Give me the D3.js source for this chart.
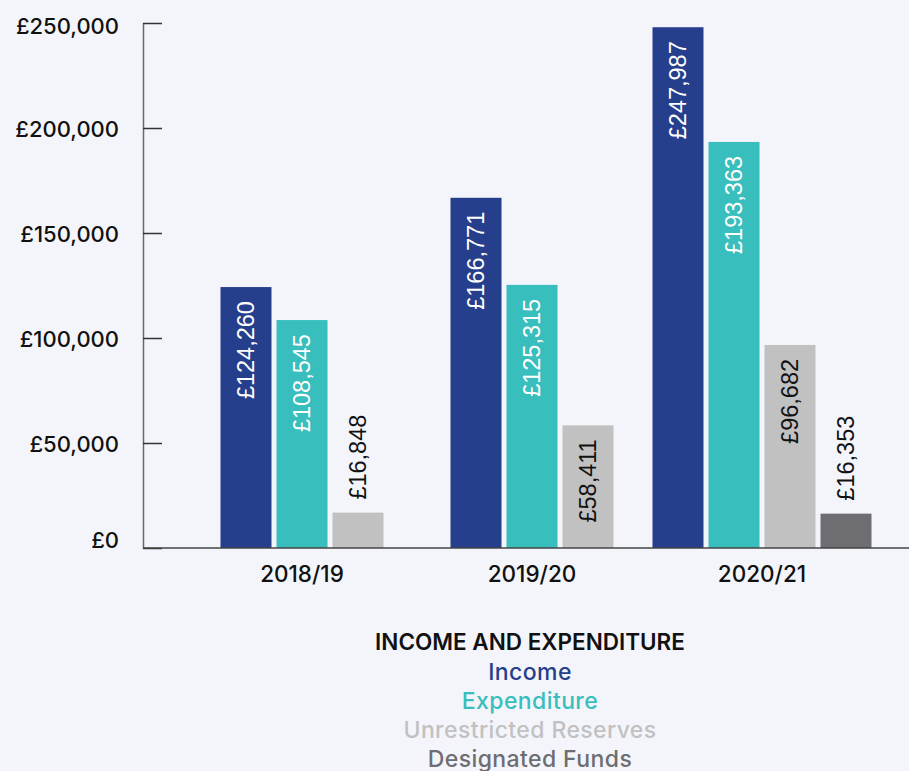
<!DOCTYPE html>
<html>
<head>
<meta charset="utf-8">
<script src="https://cdn.jsdelivr.net/npm/d3@7"></script>
<style>
  html, body { margin: 0; padding: 0; background: #f4f5fa; }
  svg { display: block; }
  .axis text { font-family: Inter, "Noto Sans", sans-serif; font-weight: 500; fill: #111; }
</style>
</head>
<body>
<svg id="chart" viewBox="0 0 909 771" width="909" height="771"></svg>
<script>
// data
const years = ["2018/19", "2019/20", "2020/21"];
const series = ["Income", "Expenditure", "Unrestricted Reserves", "Designated Funds"];
const income = [124260, 166771, 247987];
const expenditure = [108545, 125315, 193363];
const unrestricted = [16848, 58411, 96682];
const designated = [null, null, 16353];
const yTicks = [0, 50000, 100000, 150000, 200000, 250000];

const colors = ["#263f8c", "#38bebd", "#c1c1c2", "#6d6d72"];
const labelColors = ["#fff", "#fff", "#111", "#111"];

const svg = d3.select("#chart");
const width = 909;
const axisX = 143;

const y = d3.scaleLinear().domain([0, 250000]).range([548, 23]);
const x0 = d3.scaleBand().domain(years).range([187, 877]);
const barW = 51, barStep = 56;
const fmt = d => "£" + d3.format(",")(d);

const values = [income, expenditure, unrestricted, designated];

// flatten into bars, only present values, centred in their year
const bars = [];
years.forEach((yr, i) => {
  const present = series.map((s, k) => ({ s, k, v: values[k][i] })).filter(d => d.v != null);
  const groupW = present.length * barStep - (barStep - barW);
  const start = x0(yr) + x0.bandwidth() / 2 - groupW / 2;
  present.forEach((d, j) => bars.push({ year: yr, k: d.k, v: d.v, x: start + j * barStep }));
});

// y axis
const yAxis = svg.append("g")
  .attr("class", "axis")
  .attr("transform", `translate(${axisX},0)`)
  .call(d3.axisLeft(y).tickValues(yTicks).tickSizeInner(-19).tickSizeOuter(0).tickPadding(24).tickFormat(fmt));
yAxis.select(".domain").attr("stroke", "#6a6a6a").attr("stroke-width", 1.5);
yAxis.selectAll(".tick line").attr("stroke", "#333").attr("stroke-width", 1.5);
yAxis.selectAll(".tick text")
  .style("font-size", "22px")
  .attr("dy", "0.36em")
  .attr("y", d => (d === 250000 ? 3 : d === 0 ? -8 : 1));

// bars
svg.append("g").selectAll("rect")
  .data(bars)
  .join("rect")
  .attr("x", d => d.x)
  .attr("width", barW)
  .attr("y", d => y(d.v))
  .attr("height", d => y(0) - y(d.v))
  .attr("fill", d => colors[d.k]);

// value labels, rotated
const labels = svg.append("g").selectAll("text")
  .data(bars)
  .join("text")
  .text(d => fmt(d.v))
  .style("font-family", "'Liberation Sans', Arial, sans-serif")
  .style("font-size", "23.5px");

labels.each(function (d) {
  const len = this.getComputedTextLength();
  const h = y(0) - y(d.v);
  const cx = d.x + barW / 2;
  const inside = h > len + 25;
  d3.select(this)
    .attr("transform", inside
      ? `translate(${cx + 8},${y(d.v) + 14}) rotate(-90)`
      : `translate(${cx + 8},${y(d.v) - 13}) rotate(-90)`)
    .attr("text-anchor", inside ? "end" : "start")
    .attr("fill", inside ? labelColors[d.k] : "#111");
});

// baseline
svg.append("line")
  .attr("x1", axisX).attr("x2", width)
  .attr("y1", y(0)).attr("y2", y(0))
  .attr("stroke", "#444").attr("stroke-width", 1.5);

// x axis labels
const xAxis = svg.append("g")
  .attr("class", "axis")
  .attr("transform", `translate(0,${y(0)})`)
  .call(d3.axisBottom(x0).tickSize(0).tickPadding(18));
xAxis.select(".domain").remove();
xAxis.selectAll(".tick text").style("font-size", "22.5px");

// legend
const legend = svg.append("g")
  .attr("text-anchor", "middle")
  .style("font-family", "Inter, 'Noto Sans', sans-serif");
legend.append("text")
  .attr("x", 530).attr("y", 650)
  .style("font-size", "22.5px").style("font-weight", 600)
  .attr("fill", "#111")
  .text("INCOME AND EXPENDITURE");
legend.selectAll("text.item")
  .data(series)
  .join("text")
  .attr("class", "item")
  .attr("x", 530)
  .attr("y", (d, i) => 680 + i * 29)
  .style("font-size", "23px").style("font-weight", 500)
  .style("letter-spacing", "0.4px")
  .attr("fill", (d, i) => colors[i])
  .text(d => d);
</script>
</body>
</html>
